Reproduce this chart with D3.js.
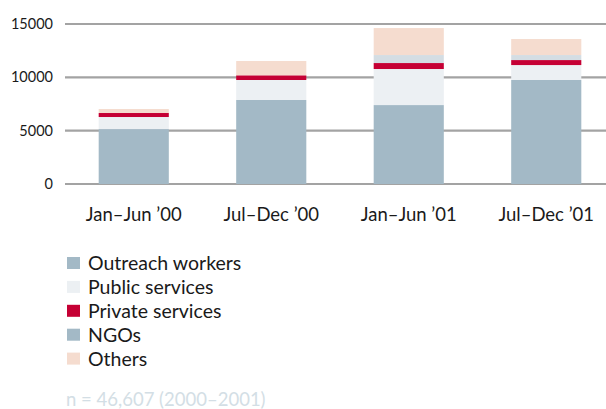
<!DOCTYPE html>
<html>
<head>
<meta charset="utf-8">
<script src="https://cdn.jsdelivr.net/npm/d3@7"></script>
<style>
  html, body { margin: 0; padding: 0; background: #fff; }
  svg { display: block; }
  text { font-family: "Lato", "Open Sans", sans-serif; fill: #1a1a1a; }
</style>
</head>
<body>
<svg id="chart" width="606" height="409"></svg>
<script>
// Referral sources by half-year period
const periods = ["Jan–Jun ’00", "Jul–Dec ’00", "Jan–Jun ’01", "Jul–Dec ’01"];
const seriesNames = ["Outreach workers", "Public services", "Private services", "NGOs", "Others"];
const outreach = [5150, 7875, 7400, 9750];
const publicServices = [1130, 1875, 3380, 1400];
const privateServices = [375, 440, 560, 470];
const ngos = [0, 0, 750, 470];
const others = [375, 1340, 2530, 1500];
const barColors = ["#a3b9c6", "#ecf0f3", "#c50034", "#d4dde3", "#f5dccf"];
const legendColors = ["#a3b9c6", "#ecf0f3", "#c50034", "#a3b9c6", "#f5dccf"];
const yTicks = [0, 5000, 10000, 15000];
const footnote = "n = 46,607 (2000–2001)";

const values = [outreach, publicServices, privateServices, ngos, others];
const rows = periods.map((p, i) => {
  const r = { period: p };
  seriesNames.forEach((s, k) => { r[s] = values[k][i]; });
  return r;
});

const svg = d3.select("#chart");
const W = 606;

const x = d3.scaleBand().domain(periods).range([65, 615])
  .paddingInner(0.49).paddingOuter(0.245);
const y = d3.scaleLinear().domain([0, 15000]).range([184, 24]);

// horizontal gridlines behind the bars
svg.append("g").selectAll("line").data(yTicks).join("line")
  .attr("x1", 65).attr("x2", W)
  .attr("y1", d => y(d)).attr("y2", d => y(d))
  .attr("stroke", "#a3a3a3").attr("stroke-width", 2.2);

// y tick labels
const yAxis = d3.axisLeft(y).tickValues(yTicks).tickFormat(d3.format("d"))
  .tickSize(0).tickPadding(0);
const gy = svg.append("g").attr("transform", "translate(53,0)").call(yAxis);
gy.select(".domain").remove();
gy.selectAll("text").attr("font-size", 14.5).attr("fill", "#1a1a1a")
  .attr("font-family", "Lato, 'Open Sans', sans-serif");

// stacked bars
const stack = d3.stack().keys(seriesNames)(rows);
svg.append("g").selectAll("g").data(stack).join("g")
  .attr("fill", (d, i) => barColors[i])
  .selectAll("rect").data(d => d).join("rect")
  .attr("x", d => x(d.data.period))
  .attr("width", x.bandwidth())
  .attr("y", d => y(d[1]))
  .attr("height", d => y(d[0]) - y(d[1]));

// x category labels
const xAxis = d3.axisBottom(x).tickSize(0).tickPadding(0);
const gx = svg.append("g").attr("transform", "translate(0,207.5)").call(xAxis);
gx.select(".domain").remove();
gx.selectAll("text").attr("font-size", 18.5).attr("fill", "#1a1a1a")
  .attr("font-family", "Lato, 'Open Sans', sans-serif");

// legend
const legend = svg.append("g").selectAll("g").data(seriesNames).join("g")
  .attr("transform", (d, i) => `translate(67,${257 + i * 23.9})`);
legend.append("rect").attr("width", 13).attr("height", 12)
  .attr("fill", (d, i) => legendColors[i]);
legend.append("text").attr("x", 21).attr("y", 13)
  .attr("font-size", 19.5).text(d => d);

// sample size note
svg.append("text").attr("x", 66).attr("y", 406)
  .attr("font-size", 18.5).style("fill", "#d3dee5").text(footnote);
</script>
</body>
</html>
